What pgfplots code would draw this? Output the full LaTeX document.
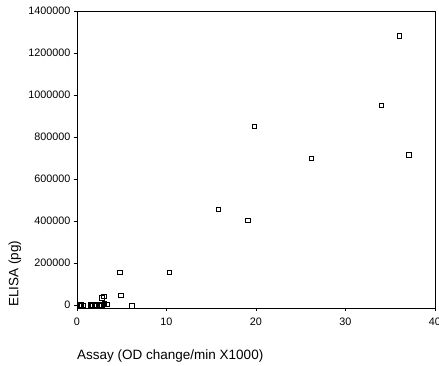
\documentclass[border=0pt]{standalone}
\usepackage{fontspec}
\setmainfont{Liberation Sans}
\usepackage{pgfplots}
\pgfplotsset{compat=1.18}
\begin{document}
\begin{tikzpicture}
\begin{axis}[
  scale only axis, width=358pt, height=297pt,
  xmin=0, xmax=40, ymin=-15000, ymax=1400000,
  xtick={0,10,20,30,40},
  ytick={0,200000,400000,600000,800000,1000000,1200000,1400000},
  scaled y ticks=false,
  yticklabel style={/pgf/number format/fixed,/pgf/number format/1000 sep={}},
  xticklabel style={yshift=-3pt},
  /pgf/number format/assume math mode=true,
  tick label style={font=\fontsize{10.8}{12}\selectfont},
  tick align=outside, tick pos=left,
  major tick length=3pt,
  axis line style={line width=0.8pt},
  tick style={black, line width=0.6pt},
  xlabel={Assay (OD change/min X1000)},
  ylabel={ELISA (pg)},
  every axis x label/.style={at={(axis description cs:0,0)}, anchor=west, inner sep=0pt, yshift=-48pt, font=\fontsize{13.5}{15}\selectfont},
  every axis y label/.style={at={(axis description cs:0,0.115)}, xshift=-62pt, rotate=90, anchor=center, inner sep=0pt, font=\fontsize{13.5}{15}\selectfont},
]
\addplot[only marks, mark=square, mark size=2.3pt, mark options={line width=0.6pt, black}] coordinates {
(36.0,1281000) (34.0,950000) (37.1,714000) (26.2,698000) (19.8,850000)
(15.8,455000) (19.1,403000) (10.3,155000) (4.8,155000) (4.9,45000)
(6.1,-4000) (2.75,33000) (3.0,41000) (3.05,5000) (3.4,2000)
(0.3,0) (0.5,0) (0.7,-2000) (0.4,-3000) (1.5,0) (1.7,-1000) (1.6,-2000)
(2.0,-3000) (2.2,0) (2.45,-1000) (2.65,-3000) (2.8,0)
};
\end{axis}
\pgfresetboundingbox
\path[use as bounding box] (-77pt,-57pt) rectangle (362pt,308pt);
\end{tikzpicture}
\end{document}
